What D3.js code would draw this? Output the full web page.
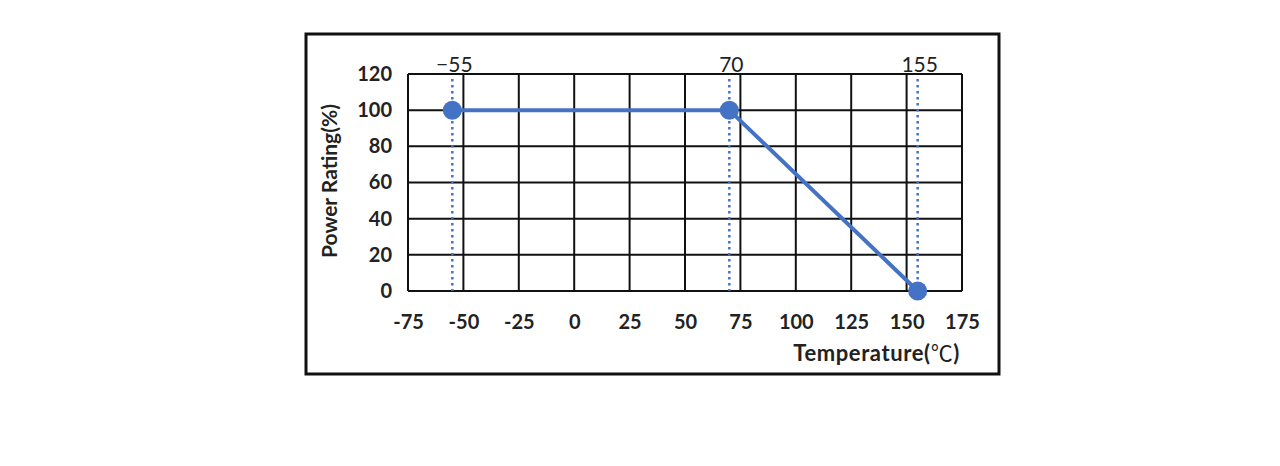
<!DOCTYPE html>
<html>
<head>
<meta charset="utf-8">
<script src="https://cdn.jsdelivr.net/npm/d3@7"></script>
<style>
  body { margin: 0; background: #fff; }
  text { font-family: Lato, "Open Sans", sans-serif; }
</style>
</head>
<body>
<div class="canvas"></div>
<script>
// data
const temps = [-55, 70, 155]
const ratings = [100, 100, 0]
const markLabels = ["\u221255", "70", "155"]
const xTicks = [-75, -50, -25, 0, 25, 50, 75, 100, 125, 150, 175]
const yTicks = [0, 20, 40, 60, 80, 100, 120]

// settings
const svgWidth = 1280
const svgHeight = 466
const plot = {left: 408, right: 962, top: 74, bottom: 291}
const blue = "#4472C4"

const svg = d3.select(".canvas")
    .append("svg")
    .attr("width", svgWidth)
    .attr("height", svgHeight)

// outer frame
svg.append("rect")
    .attr("x", 306)
    .attr("y", 34)
    .attr("width", 693)
    .attr("height", 340)
    .attr("fill", "none")
    .attr("stroke", "#111")
    .attr("stroke-width", 3)

const x = d3.scaleLinear()
    .domain([-75, 175])
    .range([plot.left, plot.right])

const y = d3.scaleLinear()
    .domain([0, 120])
    .range([plot.bottom, plot.top])

// grid
const grid = svg.append("g")
grid.selectAll(".vline")
    .data(xTicks)
    .enter()
    .append("line")
        .attr("x1", d => x(d))
        .attr("x2", d => x(d))
        .attr("y1", plot.top)
        .attr("y2", plot.bottom)
        .attr("stroke", "#111")
        .attr("stroke-width", 2)

grid.selectAll(".hline")
    .data(yTicks)
    .enter()
    .append("line")
        .attr("x1", plot.left)
        .attr("x2", plot.right)
        .attr("y1", d => y(d))
        .attr("y2", d => y(d))
        .attr("stroke", "#111")
        .attr("stroke-width", 2)

// axes labels (plain hyphen minus like the source)
const xAxis = svg.append("g")
    .attr("transform", `translate(0, ${plot.bottom})`)
    .call(d3.axisBottom(x).tickValues(xTicks).tickFormat(d => String(d)).tickSize(0).tickPadding(24))
xAxis.select(".domain").remove()
xAxis.selectAll("text")
    .attr("font-size", 20)
    .attr("font-weight", "bold")
    .attr("fill", "#222")
    .style("font-family", "Lato, sans-serif")

const yAxis = svg.append("g")
    .attr("transform", `translate(${plot.left}, 0)`)
    .call(d3.axisLeft(y).tickValues(yTicks).tickFormat(d => String(d)).tickSize(0).tickPadding(16))
yAxis.select(".domain").remove()
yAxis.selectAll("text")
    .attr("font-size", 20)
    .attr("font-weight", "bold")
    .attr("fill", "#222")
    .style("font-family", "Lato, sans-serif")

// dotted markers
svg.selectAll(".dotline")
    .data(temps)
    .enter()
    .append("line")
        .attr("x1", d => x(d))
        .attr("x2", d => x(d))
        .attr("y1", plot.top + 5)
        .attr("y2", plot.bottom)
        .attr("stroke", blue)
        .attr("stroke-width", 2.5)
        .attr("stroke-dasharray", "2.5 3.5")

svg.selectAll(".marklabel")
    .data(temps)
    .enter()
    .append("text")
        .attr("x", d => x(d) + 2)
        .attr("y", 72)
        .attr("text-anchor", "middle")
        .attr("font-size", 21)
        .attr("fill", "#222")
        .text((d, i) => markLabels[i])

// derating curve
const pts = temps.map((t, i) => [t, ratings[i]])
svg.append("path")
    .datum(pts)
    .attr("d", d3.line().x(d => x(d[0])).y(d => y(d[1])))
    .attr("fill", "none")
    .attr("stroke", blue)
    .attr("stroke-width", 4)

svg.selectAll(".pt")
    .data(pts)
    .enter()
    .append("circle")
        .attr("cx", d => x(d[0]))
        .attr("cy", d => y(d[1]))
        .attr("r", 9.5)
        .attr("fill", blue)

// titles
svg.append("text")
    .attr("transform", "translate(337, 181) rotate(-90)")
    .attr("text-anchor", "middle")
    .attr("font-size", 21)
    .attr("font-weight", "bold")
    .attr("fill", "#222")
    .text("Power Rating(%)")

const xTitle = svg.append("text")
    .attr("x", 960)
    .attr("y", 361)
    .attr("text-anchor", "end")
    .attr("font-size", 22)
    .attr("font-weight", "bold")
    .attr("letter-spacing", 0.6)
    .attr("fill", "#222")
xTitle.append("tspan").text("Temperature(")
xTitle.append("tspan")
    .style("font-family", "'Noto Sans CJK SC', sans-serif")
    .attr("font-weight", "normal")
    .text("\u2103")
xTitle.append("tspan").text(")")
</script>
</body>
</html>
